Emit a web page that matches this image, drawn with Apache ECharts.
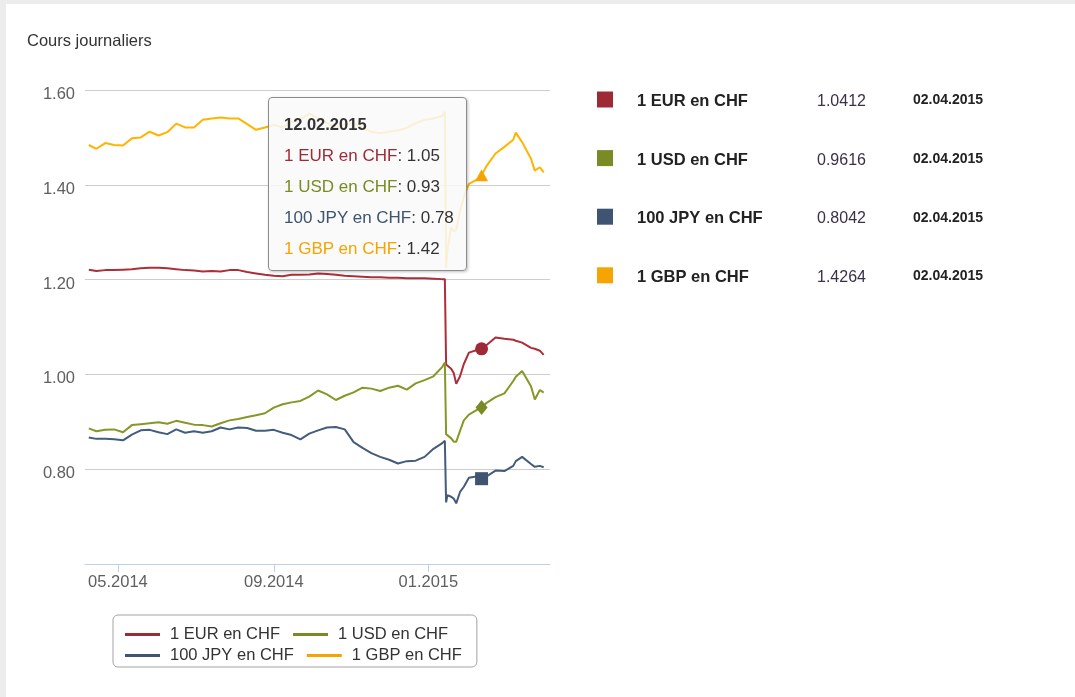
<!DOCTYPE html>
<html>
<head>
<meta charset="utf-8">
<title>Cours journaliers</title>
<script src="https://cdn.jsdelivr.net/npm/echarts@6/dist/echarts.min.js"></script>
<style>
  html, body { margin: 0; padding: 0; background: #ececec; }
  #card { position: absolute; left: 6px; top: 4px; width: 1069px; height: 693px; background: #fff; }
  #main { position: absolute; left: 0; top: 0; width: 1075px; height: 697px; }
</style>
</head>
<body>
<div id="card"></div>
<div id="main"></div>
<script>
// series names + colours
var names = ["1 EUR en CHF", "1 USD en CHF", "100 JPY en CHF", "1 GBP en CHF"];
var colors = ["#9e2a35", "#7a8a24", "#3e5470", "#f6a400"];

// trading dates (roughly weekly, denser around 15.01.2015)
var dates = [
  "2014-04-08", "2014-04-14", "2014-04-21", "2014-04-28", "2014-05-05", "2014-05-12",
  "2014-05-19", "2014-05-26", "2014-06-02", "2014-06-09", "2014-06-16", "2014-06-23",
  "2014-06-30", "2014-07-07", "2014-07-14", "2014-07-21", "2014-07-28", "2014-08-04",
  "2014-08-11", "2014-08-18", "2014-08-25", "2014-09-01", "2014-09-08", "2014-09-15",
  "2014-09-22", "2014-09-29", "2014-10-06", "2014-10-13", "2014-10-20", "2014-10-27",
  "2014-11-03", "2014-11-10", "2014-11-17", "2014-11-24", "2014-12-01", "2014-12-08",
  "2014-12-15", "2014-12-22", "2014-12-29", "2015-01-05", "2015-01-12", "2015-01-14",
  "2015-01-15", "2015-01-16", "2015-01-19", "2015-01-21", "2015-01-23", "2015-01-26",
  "2015-01-29", "2015-02-02", "2015-02-09", "2015-02-12", "2015-02-16", "2015-02-23",
  "2015-03-02", "2015-03-09", "2015-03-11", "2015-03-16", "2015-03-23", "2015-03-26",
  "2015-03-30", "2015-04-02"
];

var eurChf = [
  1.221, 1.218, 1.220, 1.220, 1.221, 1.222, 1.224, 1.225, 1.225, 1.224, 1.222, 1.220,
  1.219, 1.217, 1.218, 1.217, 1.220, 1.220, 1.216, 1.213, 1.210, 1.208, 1.207, 1.210,
  1.210, 1.211, 1.213, 1.212, 1.210, 1.208, 1.207, 1.206, 1.205, 1.205, 1.204, 1.204,
  1.203, 1.203, 1.203, 1.202, 1.201, 1.201, 1.021, 1.018, 1.012, 1.003, 0.980, 0.996,
  1.022, 1.046, 1.052, 1.054, 1.062, 1.078, 1.075, 1.073, 1.071, 1.067, 1.056, 1.054,
  1.050, 1.0412
];

var usdChf = [
  0.886, 0.880, 0.883, 0.884, 0.878, 0.893, 0.895, 0.897, 0.899, 0.896, 0.902, 0.898,
  0.894, 0.893, 0.890, 0.897, 0.903, 0.906, 0.910, 0.914, 0.918, 0.930, 0.937, 0.941,
  0.944, 0.953, 0.966, 0.958, 0.946, 0.955, 0.962, 0.972, 0.970, 0.965, 0.972, 0.976,
  0.968, 0.981, 0.988, 0.996, 1.016, 1.025, 0.874, 0.870, 0.865, 0.858, 0.858, 0.881,
  0.903, 0.915, 0.926, 0.930, 0.940, 0.952, 0.960, 0.986, 0.995, 1.007, 0.975, 0.947,
  0.967, 0.9616
];

var jpyChf = [
  0.867, 0.864, 0.864, 0.863, 0.861, 0.873, 0.882, 0.883, 0.878, 0.874, 0.884, 0.877,
  0.880, 0.877, 0.880, 0.888, 0.884, 0.888, 0.887, 0.881, 0.881, 0.883, 0.877, 0.872,
  0.863, 0.875, 0.882, 0.888, 0.889, 0.884, 0.857, 0.845, 0.834, 0.826, 0.820, 0.812,
  0.817, 0.818, 0.826, 0.843, 0.855, 0.860, 0.730, 0.745, 0.742, 0.738, 0.728, 0.752,
  0.763, 0.782, 0.785, 0.780, 0.785, 0.797, 0.796, 0.807, 0.817, 0.826, 0.811, 0.805,
  0.807, 0.8042
];

var gbpChf = [
  1.484, 1.476, 1.488, 1.484, 1.483, 1.498, 1.500, 1.512, 1.504, 1.511, 1.529, 1.521,
  1.521, 1.537, 1.540, 1.542, 1.540, 1.540, 1.528, 1.516, 1.521, 1.526, 1.521, 1.532,
  1.538, 1.550, 1.540, 1.530, 1.520, 1.528, 1.530, 1.520, 1.512, 1.509, 1.512, 1.515,
  1.520, 1.530, 1.537, 1.540, 1.545, 1.554, 1.225, 1.262, 1.310, 1.302, 1.305, 1.345,
  1.375, 1.402, 1.412, 1.420, 1.440, 1.466, 1.480, 1.495, 1.510, 1.490, 1.455, 1.430,
  1.437, 1.4264
];

var tickDates = ["2014-05-01", "2014-09-01", "2015-01-01"];
var tipDate = "2015-02-12";

var FONT = "'Liberation Sans', Arial, sans-serif";

function ts(s) {
  var p = s.split("-");
  return new Date(+p[0], p[1] - 1, +p[2]).getTime();
}
function pad(n) { return n < 10 ? "0" + n : "" + n; }
function fmtDay(t) {
  var d = new Date(t);
  return pad(d.getDate()) + "." + pad(d.getMonth() + 1) + "." + d.getFullYear();
}
function fmtMonth(t) {
  var d = new Date(t);
  return pad(d.getMonth() + 1) + "." + d.getFullYear();
}

var allValues = [eurChf, usdChf, jpyChf, gbpChf];
var symbols = ["circle", "diamond", "rect", "triangle"];
var symbolSizes = [13, [12, 15], 13, [13, 12]];

var series = [];
for (var i = 0; i < names.length; i++) {
  var pts = [];
  for (var j = 0; j < dates.length; j++) {
    pts.push([ts(dates[j]), allValues[i][j]]);
  }
  series.push({
    name: names[i],
    type: "line",
    data: pts,
    showSymbol: false,
    symbol: symbols[i],
    symbolSize: symbolSizes[i],
    lineStyle: { width: 2, color: colors[i] },
    itemStyle: { color: colors[i], borderWidth: 0 },
    emphasis: { scale: false, lineStyle: { width: 2 } },
    animation: false
  });
}

// right hand table (last values)
var lastIdx = dates.length - 1;
var graphics = [];
for (var r = 0; r < names.length; r++) {
  var cy = 101.5 + r * 58.6;
  graphics.push({
    type: "rect", left: 597, top: cy - 10, silent: true,
    shape: { width: 16, height: 16 },
    style: { fill: colors[r] }
  });
  graphics.push({
    type: "text", x: 637, y: cy, silent: true,
    style: { text: names[r], font: "bold 16.5px " + FONT, fill: "#222", verticalAlign: "middle" }
  });
  graphics.push({
    type: "text", x: 817, y: cy, silent: true,
    style: { text: allValues[r][lastIdx].toFixed(4), font: "16px " + FONT, fill: "#3b3048", verticalAlign: "middle" }
  });
  graphics.push({
    type: "text", x: 913, y: cy - 1, silent: true,
    style: { text: fmtDay(ts(dates[lastIdx])), font: "bold 14px " + FONT, fill: "#222", verticalAlign: "middle" }
  });
}

var myChart = echarts.init(document.getElementById("main"));

var option = {
  animation: false,
  textStyle: { fontFamily: FONT },
  title: {
    text: "Cours journaliers",
    left: 27,
    top: 33,
    padding: 0,
    textStyle: { fontSize: 16.5, fontWeight: "normal", color: "#333", fontFamily: FONT }
  },
  grid: { left: 85, right: 525, top: 90, bottom: 133 },
  xAxis: {
    type: "value",
    min: ts("2014-04-05"),
    max: ts("2015-04-07"),
    axisLine: { lineStyle: { color: "#c0d0e0", width: 1 } },
    axisTick: {
      show: true,
      length: 8,
      lineStyle: { color: "#c0d0e0" },
      customValues: tickDates.map(ts)
    },
    axisLabel: {
      customValues: tickDates.map(ts),
      formatter: function (v) { return fmtMonth(v); },
      color: "#606060",
      fontSize: 16.5,
      margin: 10,
      fontFamily: FONT
    },
    splitLine: { show: false }
  },
  yAxis: {
    type: "value",
    min: 0.6,
    max: 1.6,
    interval: 0.2,
    axisLine: { show: false },
    axisTick: { show: false },
    axisLabel: {
      formatter: function (v) { return v < 0.7 ? "" : "{v|" + v.toFixed(2) + "}"; },
      margin: 10,
      rich: {
        v: { color: "#606060", fontSize: 16.5, fontFamily: FONT, padding: [9, 0, 0, 0] }
      }
    },
    splitLine: { lineStyle: { color: "#cdcdcd", width: 1 } }
  },
  legend: {
    data: names,
    left: 113,
    top: 615,
    width: 420,
    orient: "horizontal",
    padding: [11, 6, 3, 12],
    itemGap: 4,
    itemWidth: 35,
    itemHeight: 3,
    icon: "rect",
    borderColor: "#a3a3a3",
    borderWidth: 1,
    borderRadius: 5,
    textStyle: { fontSize: 16.5, color: "#333", lineHeight: 14, padding: [0, 9, 0, 5], fontFamily: FONT }
  },
  tooltip: {
    trigger: "axis",
    axisPointer: { type: "line", lineStyle: { color: "rgba(0,0,0,0)" } },
    position: [268, 97],
    alwaysShowContent: true,
    transitionDuration: 0,
    backgroundColor: "rgba(249,249,249,0.86)",
    borderColor: "#8c8c8c",
    borderWidth: 1,
    borderRadius: 4,
    padding: [11, 10, 6, 15],
    extraCssText: "width:172px;box-shadow:1px 1px 3px rgba(0,0,0,0.25);",
    textStyle: { fontSize: 17, color: "#333", fontFamily: FONT },
    formatter: function (params) {
      var html = '<div style="line-height:31px;font-weight:bold;font-size:16.5px;">' + fmtDay(params[0].value[0]) + "</div>";
      params.forEach(function (p) {
        html += '<div style="line-height:31px;white-space:nowrap;"><span style="color:' + colors[p.seriesIndex] + ';">' +
          p.seriesName + "</span>: " + p.value[1].toFixed(2) + "</div>";
      });
      return html;
    }
  },
  graphic: graphics,
  series: series
};

myChart.setOption(option);
myChart.dispatchAction({ type: "showTip", seriesIndex: 0, dataIndex: dates.indexOf(tipDate) });
</script>
</body>
</html>
